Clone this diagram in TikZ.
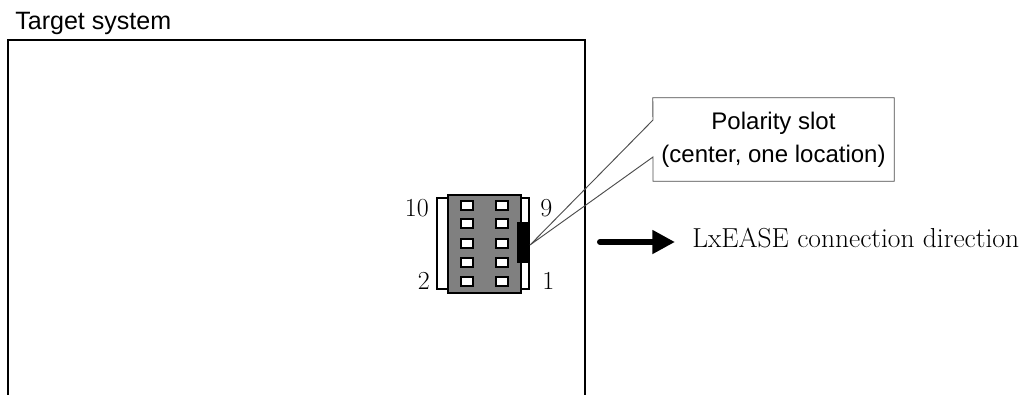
\documentclass[tikz,border=0pt]{standalone}
\usepackage{fontspec}
\newfontfamily\arialfont{Liberation Sans}
\usetikzlibrary{arrows.meta,positioning}

\definecolor{bodygray}{HTML}{808080}
\tikzset{
  pinhole/.style={draw=black,fill=white,line width=1.5pt},
  pinnum/.style={inner sep=0,font=\fontsize{19.5}{22}\selectfont},
  callbox/.style={inner sep=0,minimum width=180.75pt,minimum height=62.25pt,
    align=center,font=\arialfont\fontsize{18}{24.75}\selectfont},
  callline/.style={draw=black!70,line width=0.7pt},
  dirarrow/.style={line width=4.5pt,line cap=round,-{Triangle[length=17pt,width=17pt]}}
}

\begin{document}
\begin{tikzpicture}[x=0.75pt,y=-0.75pt]
\useasboundingbox (0,0) rectangle (1022,394);
% Target system (open at the bottom)
\node[anchor=base west,inner sep=0,font=\arialfont\fontsize{18.8}{22}\selectfont] (title) at (15,29) {Target system};
\draw[line width=1.5pt] (8,400) -- (8,40) -- (585,40) -- (585,400);

% Connector
\draw[fill=white,line width=1.2pt] (437,198) rectangle (448,289);
\draw[fill=white,line width=1.2pt] (521,198) rectangle (529,289);
\draw[fill=bodygray,line width=1.2pt] (448,195) rectangle (521,293);
\foreach \y in {205,223,243,262,281} {
  \foreach \x in {467,501.5} {
    \draw[pinhole] (\x-6,\y-4.5) rectangle (\x+6,\y+4.5);
  }
}
\draw[fill=black] (517,222) rectangle (529,262);
\coordinate (tip) at (530,245);

% Pin numbers
\node[pinnum,anchor=base east] (n10) at (429,216) {10};
\node[pinnum,anchor=base west] (n9) at (540,216) {9};
\node[pinnum,anchor=base east] (n2) at (430,289) {2};
\node[pinnum,anchor=base west] (n1) at (542,289) {1};

% Callout
\node[callbox] (callout) at (773.5,139.5) {Polarity slot\\(center, one location)};
\coordinate (gapT) at (653,120);
\coordinate (gapB) at (653,157);
\draw[callline] (gapB) |- (callout.south east) |- (callout.north west) -- (gapT) -- (tip) -- cycle;

% Connection direction
\node[anchor=base west,inner xsep=12.75pt,inner ysep=0,font=\fontsize{20.6}{24}\selectfont] (dir) at (675,247) {LxEASE connection direction};
\coordinate (arrS) at (600,242);
\draw[dirarrow] (arrS) -- (arrS -| dir.west);
\end{tikzpicture}
\end{document}
